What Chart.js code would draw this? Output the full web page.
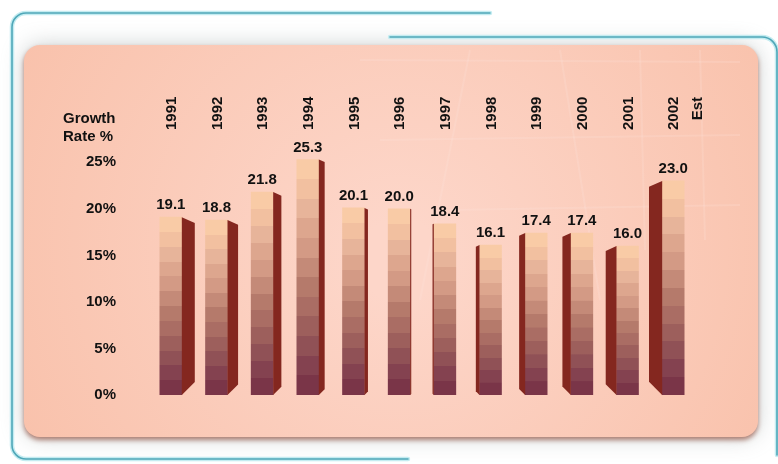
<!DOCTYPE html>
<html>
<head>
<meta charset="utf-8">
<script src="https://cdn.jsdelivr.net/npm/chart.js@4.4.0/dist/chart.umd.min.js"></script>
<style>
  html, body { margin: 0; padding: 0; background: #fff; }
  #wrap { position: relative; width: 778px; height: 464px; }
  canvas { display: block; }
</style>
</head>
<body>
<div id="wrap"><canvas id="growth-chart" width="778" height="464"></canvas></div>
<script>
const years = ["1991", "1992", "1993", "1994", "1995", "1996", "1997", "1998", "1999", "2000", "2001", "2002"];
const growthRates = [19.1, 18.8, 21.8, 25.3, 20.1, 20.0, 18.4, 16.1, 17.4, 17.4, 16.0, 23.0];
const yTickValues = [0, 5, 10, 15, 20, 25];
const axisTitleLines = ["Growth", "Rate %"];
const estimateNote = "Est";

const FONT = '"Liberation Sans", Arial, sans-serif';
// top -> bottom bands of the front face
const bandColors = [
  "#F9CBA6", "#F2C0A0", "#E7B49A", "#DDA68E", "#D39A85", "#C48A78",
  "#B57A6B", "#AA6D64", "#9D5F5C", "#905156", "#844250", "#7A3548",
];
const sideColor = "#84271F";

function roundRect(ctx, x, y, w, h, r) {
  ctx.beginPath();
  ctx.moveTo(x + r, y);
  ctx.lineTo(x + w - r, y);
  ctx.arcTo(x + w, y, x + w, y + r, r);
  ctx.lineTo(x + w, y + h - r);
  ctx.arcTo(x + w, y + h, x + w - r, y + h, r);
  ctx.lineTo(x + r, y + h);
  ctx.arcTo(x, y + h, x, y + h - r, r);
  ctx.lineTo(x, y + r);
  ctx.arcTo(x, y, x + r, y, r);
  ctx.closePath();
}

// frame lines + peach panel behind the chart
const backdropPlugin = {
  id: "backdrop",
  beforeDraw(chart) {
    const ctx = chart.ctx;
    ctx.save();
    ctx.fillStyle = "#fff";
    ctx.fillRect(0, 0, chart.width, chart.height);

    // soft grey halo round the panel
    ctx.shadowColor = "rgba(140,150,150,0.45)";
    ctx.shadowBlur = 22;
    roundRect(ctx, 24, 45, 734, 392, 16);
    ctx.fillStyle = "#EEF0EF";
    ctx.fill();

    // panel with its brownish drop shadow
    ctx.shadowColor = "rgba(150,90,75,0.75)";
    ctx.shadowBlur = 5;
    ctx.shadowOffsetY = 3;
    const g = ctx.createRadialGradient(400, 260, 40, 400, 240, 420);
    g.addColorStop(0, "#FDD6C9");
    g.addColorStop(1, "#F9C2AC");
    ctx.fillStyle = g;
    roundRect(ctx, 24, 45, 734, 392, 16);
    ctx.fill();
    ctx.shadowColor = "transparent";

    // faint light texture lines in the panel
    ctx.strokeStyle = "rgba(255,235,225,0.18)";
    ctx.lineWidth = 2;
    [[470, 50, 420, 300], [560, 50, 600, 300], [640, 50, 645, 250], [700, 50, 705, 240]].forEach(([x1, y1, x2, y2]) => {
      ctx.beginPath();
      ctx.moveTo(x1, y1);
      ctx.lineTo(x2, y2);
      ctx.stroke();
    });
    [[360, 60, 740, 62], [380, 140, 740, 135], [450, 210, 740, 205]].forEach(([x1, y1, x2, y2]) => {
      ctx.beginPath();
      ctx.moveTo(x1, y1);
      ctx.lineTo(x2, y2);
      ctx.stroke();
    });

    // teal frame lines
    const frame = () => {
      ctx.beginPath();
      ctx.moveTo(490, 13);
      ctx.lineTo(26, 13);
      ctx.arcTo(12, 13, 12, 27, 14);
      ctx.lineTo(12, 445);
      ctx.arcTo(12, 459, 26, 459, 14);
      ctx.lineTo(408, 459);
      ctx.moveTo(390, 37);
      ctx.lineTo(762, 37);
      ctx.arcTo(777, 37, 777, 52, 15);
      ctx.lineTo(777, 455);
      ctx.stroke();
    };
    ctx.lineCap = "round";
    ctx.strokeStyle = "#C4ECF1";
    ctx.lineWidth = 4.5;
    frame();
    ctx.strokeStyle = "#4FA7B8";
    ctx.lineWidth = 1.6;
    frame();
    ctx.restore();
  },
};

// dark side faces, turned towards the middle of the chart
const sideFacePlugin = {
  id: "sideFaces",
  afterDatasetsDraw(chart) {
    const ctx = chart.ctx;
    const meta = chart.getDatasetMeta(0);
    const vpX = 420;
    ctx.save();
    ctx.fillStyle = sideColor;
    meta.data.forEach((bar) => {
      const { x, y, base, width } = bar.getProps(["x", "y", "base", "width"], true);
      const w = (vpX - x) * 0.052;
      if (Math.abs(w) < 0.5) return;
      const edge = w > 0 ? x + width / 2 : x - width / 2;
      const d = Math.abs(w);
      ctx.beginPath();
      ctx.moveTo(edge, y);
      ctx.lineTo(edge + w, y + d * 0.45);
      ctx.lineTo(edge + w, base - d);
      ctx.lineTo(edge, base);
      ctx.closePath();
      ctx.fill();
    });
    ctx.restore();
  },
};

const textPlugin = {
  id: "texts",
  afterDraw(chart) {
    const ctx = chart.ctx;
    const meta = chart.getDatasetMeta(0);
    ctx.save();
    ctx.fillStyle = "#111";
    ctx.font = "bold 15px " + FONT;
    ctx.textAlign = "center";
    ctx.textBaseline = "middle";
    meta.data.forEach((bar, i) => {
      ctx.fillText(growthRates[i].toFixed(1), bar.x, bar.y - 12);
    });

    ctx.textAlign = "left";
    ctx.fillText(axisTitleLines[0], 63, 119);
    ctx.fillText(axisTitleLines[1], 63, 137);

    const xLast = chart.scales.x.getPixelForValue(years.length - 1);
    ctx.translate(xLast + 25, 97);
    ctx.rotate(-Math.PI / 2);
    ctx.textAlign = "right";
    ctx.fillText(estimateNote, 0, 0);
    ctx.restore();
  },
};

function frontFill(context) {
  const chart = context.chart;
  if (!chart.chartArea) return bandColors[6];
  const yScale = chart.scales.y;
  const top = yScale.getPixelForValue(growthRates[context.dataIndex]);
  const base = yScale.getPixelForValue(0);
  const grad = chart.ctx.createLinearGradient(0, top, 0, base);
  const n = bandColors.length;
  bandColors.forEach((c, i) => {
    grad.addColorStop(i / n, c);
    grad.addColorStop(Math.min(1, (i + 1) / n - 0.0001), c);
  });
  return grad;
}

new Chart(document.getElementById("growth-chart"), {
  type: "bar",
  data: {
    labels: years,
    datasets: [
      {
        data: growthRates,
        backgroundColor: frontFill,
        borderWidth: 0,
        barThickness: 22,
      },
    ],
  },
  options: {
    responsive: false,
    animation: false,
    events: [],
    layout: { padding: { left: 0, right: 82, top: 0, bottom: 69 } },
    plugins: {
      legend: { display: false },
      tooltip: { enabled: false },
    },
    scales: {
      x: {
        position: "top",
        grid: { display: false, drawTicks: false },
        border: { display: false },
        ticks: {
          autoSkip: false,
          minRotation: 90,
          maxRotation: 90,
          padding: 9,
          labelOffset: 19,
          color: "#111",
          font: { family: FONT, size: 15, weight: "bold" },
        },
        afterFit(scale) {
          scale.height = 139;
        },
      },
      y: {
        min: 0,
        max: 27.5,
        grid: { display: false, drawTicks: false },
        border: { display: false },
        ticks: {
          padding: 32,
          color: "#111",
          font: { family: FONT, size: 15, weight: "bold" },
          callback: (v) => v + "%",
        },
        afterBuildTicks(scale) {
          scale.ticks = yTickValues.map((v) => ({ value: v }));
        },
        afterFit(scale) {
          scale.width = 148;
        },
      },
    },
  },
  plugins: [backdropPlugin, sideFacePlugin, textPlugin],
});
</script>
</body>
</html>
